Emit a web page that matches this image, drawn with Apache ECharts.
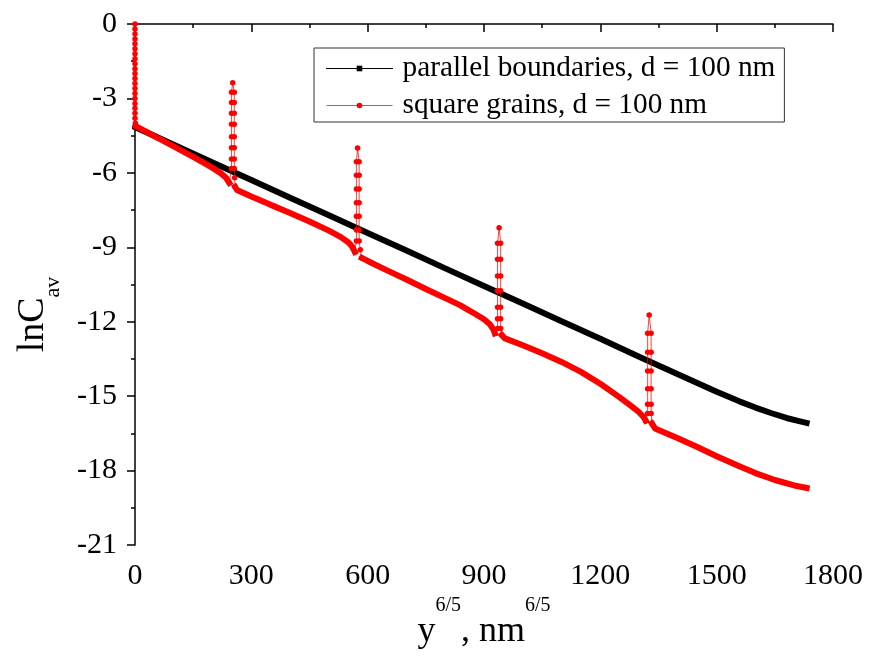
<!DOCTYPE html>
<html>
<head>
<meta charset="utf-8">
<script src="https://cdn.jsdelivr.net/npm/echarts@6/dist/echarts.min.js"></script>
<style>
html,body{margin:0;padding:0;background:#fff;}
#chart{width:870px;height:661px;}
</style>
</head>
<body>
<div id="chart"></div>
<script>
// ---- data ----
const xTicks = [0, 300, 600, 900, 1200, 1500, 1800];
const yTicks = [0, -3, -6, -9, -12, -15, -18, -21];

// parallel boundaries (black)
const blackX = [0, 100, 200, 300, 400, 500, 600, 700, 800, 900, 1000, 1100, 1200, 1300, 1400, 1500, 1560, 1600, 1640, 1680, 1710, 1732];
const blackY = [-4.15, -4.87, -5.58, -6.29, -7.0, -7.71, -8.42, -9.13, -9.85, -10.56, -11.27, -11.98, -12.69, -13.41, -14.12, -14.82, -15.22, -15.46, -15.68, -15.88, -16.0, -16.08];

// square grains (red) - smooth parts between the boundary spikes
const redSeg1X = [2, 50, 100, 150, 180, 200, 220, 235, 243];
const redSeg1Y = [-4.12, -4.52, -4.93, -5.36, -5.62, -5.8, -6.0, -6.2, -6.40];
const redSeg2X = [258, 263, 300, 350, 400, 450, 500, 530, 550, 560, 567];
const redSeg2Y = [-6.56, -6.69, -6.95, -7.29, -7.62, -7.96, -8.33, -8.58, -8.8, -8.97, -9.19];
const redSeg3X = [585, 600, 650, 700, 750, 800, 838, 870, 900, 915, 924, 928];
const redSeg3Y = [-9.43, -9.55, -9.93, -10.3, -10.68, -11.05, -11.33, -11.62, -11.9, -12.1, -12.3, -12.47];
const redSeg4X = [946, 954, 1000, 1050, 1100, 1150, 1200, 1250, 1280, 1300, 1312, 1317];
const redSeg4Y = [-12.54, -12.67, -12.95, -13.27, -13.62, -14.02, -14.5, -15.05, -15.4, -15.65, -15.85, -15.99];
const redSeg5X = [1333, 1341, 1400, 1450, 1500, 1560, 1600, 1650, 1700, 1732];
const redSeg5Y = [-16.1, -16.3, -16.7, -17.05, -17.42, -17.84, -18.1, -18.38, -18.6, -18.7];

// square grains (red) - spikes at the grain boundaries (points with markers)
const spike0X = [0, 0, 0, 0, 0, 0, 0, 0, 0, 0, 0, 0, 0, 0, 0, 0, 0, 0, 0, 0, 1, 2];
const spike0Y = [0, -0.2, -0.4, -0.6, -0.8, -1.0, -1.2, -1.4, -1.6, -1.8, -2.0, -2.2, -2.4, -2.6, -2.8, -3.0, -3.2, -3.4, -3.6, -3.8, -4.0, -4.12];
const spike1X = [243, 249, 249, 249, 249, 249, 249, 249, 249, 252, 256, 256, 256, 256, 256, 256, 256, 256, 257, 258];
const spike1Y = [-6.40, -5.82, -5.44, -4.99, -4.54, -4.04, -3.60, -3.16, -2.75, -2.37, -2.75, -3.16, -3.60, -4.04, -4.54, -4.99, -5.44, -5.82, -6.2, -6.56];
const spike2X = [567, 571, 571, 571, 571, 571, 571, 571, 574, 578, 578, 578, 578, 578, 578, 578, 581, 585];
const spike2Y = [-9.19, -8.75, -8.3, -7.75, -7.2, -6.65, -6.1, -5.55, -5.0, -5.55, -6.1, -6.65, -7.2, -7.75, -8.3, -8.75, -9.1, -9.43];
const spike3X = [928, 935, 935, 935, 935, 935, 935, 935, 939, 943, 943, 943, 943, 943, 943, 943, 946];
const spike3Y = [-12.47, -12.27, -11.88, -11.42, -10.75, -10.16, -9.48, -8.84, -8.21, -8.84, -9.48, -10.16, -10.75, -11.42, -11.88, -12.27, -12.54];
const spike4X = [1317, 1322, 1322, 1322, 1322, 1322, 1322, 1326, 1331, 1331, 1331, 1331, 1331, 1331, 1333];
const spike4Y = [-15.99, -15.7, -15.33, -14.70, -13.99, -13.23, -12.47, -11.73, -12.47, -13.23, -13.99, -14.70, -15.33, -15.7, -16.1];

const nameBlack = 'parallel boundaries, d = 100 nm';
const nameRed = 'square grains, d = 100 nm';

// ---- build series data ----
function pairs(xs, ys) { return xs.map((x, i) => [x, ys[i]]); }
function joinSegs(list) {
  const out = [];
  list.forEach((s, i) => {
    if (i > 0) out.push(['-', '-']);
    pairs(s[0], s[1]).forEach(p => out.push(p));
  });
  return out;
}
const blackData = pairs(blackX, blackY);
const redMainData = joinSegs([[redSeg1X, redSeg1Y], [redSeg2X, redSeg2Y], [redSeg3X, redSeg3Y], [redSeg4X, redSeg4Y], [redSeg5X, redSeg5Y]]);
const redSpikeData = joinSegs([[spike0X, spike0Y], [spike1X, spike1Y], [spike2X, spike2Y], [spike3X, spike3Y], [spike4X, spike4Y]]);

const FONT = 'Liberation Serif';
const chart = echarts.init(document.getElementById('chart'), null, {renderer: 'canvas'});
chart.setOption({
  animation: false,
  backgroundColor: '#ffffff',
  grid: {left: 135, right: 37, top: 24, bottom: 116, containLabel: false},
  legend: {
    data: [nameBlack, nameRed],
    orient: 'vertical',
    left: 314,
    top: 48,
    padding: [6, 9, 2, 12],
    itemGap: 8,
    itemWidth: 66,
    itemHeight: 7,
    borderColor: '#333',
    borderWidth: 1,
    lineStyle: {width: 1},
    textStyle: {fontFamily: FONT, fontSize: 29.3, color: '#000', lineHeight: 29, padding: [0, 0, 0, 5]}
  },
  xAxis: {
    type: 'value',
    min: 0, max: 1800, interval: 300,
    axisLine: {show: true, lineStyle: {color: '#000', width: 1.5}},
    axisTick: {show: true, inside: false, length: 8, lineStyle: {color: '#000', width: 1.5}},
    minorTick: {show: true, splitNumber: 2, length: 4, lineStyle: {color: '#000', width: 1.5}},
    splitLine: {show: false},
    axisLabel: {fontFamily: FONT, fontSize: 30, color: '#000', margin: 16,
      formatter: v => (xTicks.indexOf(v) >= 0 ? String(v) : '')},
    name: '{b|y}{s|6/5}{b|, nm}{s|6/5}',
    nameLocation: 'middle',
    nameGap: 50,
    nameTextStyle: {
      rich: {
        b: {fontFamily: FONT, fontSize: 36, color: '#000', lineHeight: 54, verticalAlign: 'bottom'},
        s: {fontFamily: FONT, fontSize: 20, color: '#000', verticalAlign: 'top'}
      }
    }
  },
  yAxis: {
    type: 'value',
    min: -21, max: 0, interval: 3,
    axisLine: {show: true, onZero: false, lineStyle: {color: '#000', width: 1.5}},
    axisTick: {show: true, inside: false, length: 8, lineStyle: {color: '#000', width: 1.5}},
    minorTick: {show: true, splitNumber: 2, length: 4, lineStyle: {color: '#000', width: 1.5}},
    splitLine: {show: false},
    axisLabel: {fontFamily: FONT, fontSize: 30, color: '#000', margin: 18,
      formatter: v => (yTicks.indexOf(v) >= 0 ? String(v) : '')},
    name: '{b|lnC}{s|av}',
    nameLocation: 'middle',
    nameGap: 71,
    nameRotate: 90,
    nameTextStyle: {
      padding: [0, 60, 0, 0],
      rich: {
        b: {fontFamily: FONT, fontSize: 38, color: '#000', lineHeight: 50, verticalAlign: 'top'},
        s: {fontFamily: FONT, fontSize: 22, color: '#000', verticalAlign: 'bottom'}
      }
    }
  },
  series: [
    {
      name: nameBlack,
      type: 'line',
      data: blackData,
      symbol: 'rect',
      showSymbol: false,
      color: '#000',
      itemStyle: {color: '#000'},
      lineStyle: {color: '#000', width: 6, cap: 'square'},
      z: 2
    },
    {
      name: nameRed,
      type: 'line',
      data: redSpikeData,
      symbol: 'circle',
      symbolSize: 5.5,
      showSymbol: true,
      showAllSymbol: true,
      connectNulls: false,
      color: '#ff0000',
      itemStyle: {color: '#ff0000'},
      lineStyle: {color: 'rgba(255,0,0,0.75)', width: 1},
      z: 4
    },
    {
      name: 'red-main',
      type: 'line',
      data: redMainData,
      symbol: 'none',
      connectNulls: false,
      color: '#ff0000',
      lineStyle: {color: '#ff0000', width: 6, cap: 'square'},
      z: 3
    }
  ]
});
</script>
</body>
</html>
